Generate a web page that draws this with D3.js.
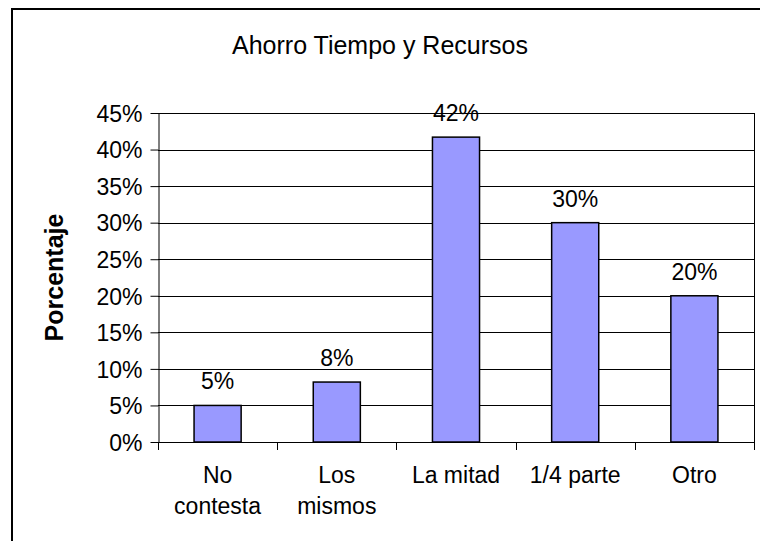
<!DOCTYPE html>
<html>
<head>
<meta charset="utf-8">
<script src="https://cdn.jsdelivr.net/npm/d3@7"></script>
<style>
  body { margin: 0; background: #fff; }
  text { font-family: "Liberation Sans", Arial, sans-serif; fill: #000; }
</style>
</head>
<body>
<div id="chart"></div>
<script>
const categories = [["No", "contesta"], ["Los", "mismos"], ["La mitad"], ["1/4 parte"], ["Otro"]];
const values = [0.05, 0.082, 0.417, 0.30, 0.20];
const yTicks = [0, 0.05, 0.10, 0.15, 0.20, 0.25, 0.30, 0.35, 0.40, 0.45];
const title = "Ahorro Tiempo y Recursos";
const yTitle = "Porcentaje";

function BarChart() {
    const width = 760, height = 541;
    const margin = ({ top: 113, right: 6, bottom: 99, left: 158 });

    const svg = d3.select("#chart").append("svg")
        .attr("width", width)
        .attr("height", height);

    svg.append("rect")
        .attr("x", 12).attr("y", 9)
        .attr("width", 800).attr("height", 600)
        .attr("fill", "#fff")
        .attr("stroke", "#000")
        .attr("stroke-width", 2);

    const xScale = d3.scaleBand()
        .domain(d3.range(categories.length))
        .range([margin.left, width - margin.right])
        .paddingInner(0.605)
        .paddingOuter(0.3025);

    const yScale = d3.scaleLinear()
        .domain([0, 0.45])
        .range([height - margin.bottom, margin.top]);

    // gridlines
    svg.append("g")
        .selectAll("line")
        .data(yTicks)
        .join("line")
        .attr("x1", margin.left)
        .attr("x2", width - margin.right)
        .attr("y1", d => Math.round(yScale(d)) + 0.5)
        .attr("y2", d => Math.round(yScale(d)) + 0.5)
        .attr("stroke", "#000")
        .attr("stroke-width", 1);

    // right edge of plot area
    svg.append("line")
        .attr("x1", width - margin.right + 0.5)
        .attr("x2", width - margin.right + 0.5)
        .attr("y1", yScale(0.45))
        .attr("y2", yScale(0))
        .attr("stroke", "#000");

    // y axis
    svg.append("g")
        .attr("transform", `translate(${margin.left + 0.5},0)`)
        .call(d3.axisLeft(yScale)
            .tickValues(yTicks)
            .tickFormat(d3.format(".0%"))
            .tickSize(8)
            .tickPadding(8)
            .tickSizeOuter(0))
        .call(g => g.selectAll("line").attr("stroke", "#000"))
        .call(g => g.select(".domain").attr("stroke", "#000"))
        .call(g => g.selectAll("text")
            .attr("font-size", 23)
            .attr("font-family", "Liberation Sans, Arial, sans-serif")
            .attr("dy", "0.36em"));

    // x axis: ticks sit on category boundaries
    const step = xScale.step();
    const bounds = d3.range(categories.length + 1).map(i => margin.left + i * step);
    const xAxis = svg.append("g");
    xAxis.append("line")
        .attr("x1", margin.left)
        .attr("x2", width - margin.right)
        .attr("y1", Math.round(yScale(0)) + 0.5)
        .attr("y2", Math.round(yScale(0)) + 0.5)
        .attr("stroke", "#000");
    xAxis.selectAll("line.tick")
        .data(bounds)
        .join("line")
        .attr("class", "tick")
        .attr("x1", d => Math.round(d) + 0.5)
        .attr("x2", d => Math.round(d) + 0.5)
        .attr("y1", yScale(0))
        .attr("y2", yScale(0) + 8)
        .attr("stroke", "#000");

    const labels = xAxis.selectAll("text")
        .data(categories)
        .join("text")
        .attr("text-anchor", "middle")
        .attr("font-size", 23)
        .attr("y", yScale(0) + 41);
    labels.selectAll("tspan")
        .data((d, i) => d.map(t => ({ t, i })))
        .join("tspan")
        .attr("x", d => xScale(d.i) + xScale.bandwidth() / 2)
        .attr("dy", (d, j) => j === 0 ? 0 : 31)
        .text(d => d.t);

    // bars
    const bars = svg.append("g")
        .selectAll("g")
        .data(values)
        .join("g");

    bars.append("rect")
        .attr("x", (d, i) => xScale(i))
        .attr("width", xScale.bandwidth())
        .attr("y", d => yScale(d))
        .attr("height", d => yScale(0) - yScale(d))
        .attr("fill", "#9999ff")
        .attr("stroke", "#000")
        .attr("stroke-width", 1.5);

    bars.append("text")
        .text(d => d3.format(".0%")(d))
        .attr("x", (d, i) => xScale(i) + xScale.bandwidth() / 2)
        .attr("y", d => yScale(d) - 16)
        .attr("text-anchor", "middle")
        .attr("font-size", 23);

    // titles
    svg.append("text")
        .attr("x", 380)
        .attr("y", 54)
        .attr("text-anchor", "middle")
        .attr("font-size", 25)
        .text(title);

    svg.append("text")
        .attr("transform", `translate(63,${(yScale(0) + yScale(0.45)) / 2}) rotate(-90)`)
        .attr("text-anchor", "middle")
        .attr("font-size", 25)
        .attr("font-weight", "bold")
        .text(yTitle);

    return svg.node();
}

BarChart();
</script>
</body>
</html>
